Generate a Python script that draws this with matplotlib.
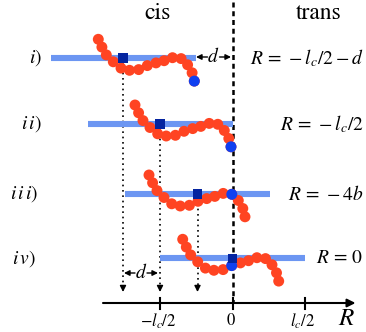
import matplotlib
matplotlib.use('Agg')
from matplotlib import pyplot as plt
import numpy as np

plt.rcParams['mathtext.fontset'] = 'stix'
plt.rcParams['font.family'] = ['STIXGeneral', 'DejaVu Serif']

# positions along R (0 = pore, one unit ~ one pixel of the original)
lc_half = 72.5
d = 37.0
b = 8.75

# chain shape: bead offsets from first bead
chain_dx = [0, 3.6, 8.0, 15.0, 22.7, 31.2, 40.4, 49.0, 57.7, 65.8, 74.2, 82.8, 89.3, 93.8, 96.0]
chain_dy = [0, 7.8, 15.6, 22.5, 28.8, 31.0, 30.3, 26.3, 23.6, 21.4, 18.4, 19.3, 25.5, 33.5, 41.8]

# one entry per row
row_y = [58, 124, 194, 258.3]
row_R = [-lc_half - d, -lc_half, -4 * b, 0.0]
chain_x0 = [-134.2, -97.5, -83.5, -49.8]
chain_y0 = [-18.7, -19.0, -19.0, -19.0]
blue_bead = [14, 14, 11, 7]
row_names = ['$i)$', '$i\\,i)$', '$i\\,i\\,i)$', '$i\\,v)$']
row_name_x = [-197, -201, -208, -209]
R_labels = ['$R\\,=\\,-l_c/2-d$', '$R\\,=\\,-l_c/2$', '$R\\,=\\,-4b$', '$R\\,=\\,0$']

ticks = [-lc_half, 0, lc_half]
tick_labels = ['$-l_c/2$', '$0$', '$l_c/2$']

axis_y = 303
arrow_tip = 292

fig = plt.figure(figsize=(3.66, 3.32), dpi=100)
ax = fig.add_axes([0, 0, 1, 1])
ax.set_xlim(-232.5, 133.5)
ax.set_ylim(332, 0)
ax.axis('off')

bar_col = '#6c96f2'
red = '#ff4422'
blue = '#1040f0'
sq_col = '#0424a0'

for i in range(4):
    y = row_y[i]
    R = row_R[i]
    ax.plot([R - lc_half, R + lc_half], [y, y], color=bar_col, lw=4.4,
            solid_capstyle='butt', zorder=2)
    bx = np.array(chain_dx) + chain_x0[i]
    by = np.array(chain_dy) + y + chain_y0[i]
    ax.scatter(bx, by, s=62, color=red, edgecolors='none', zorder=3)
    k = blue_bead[i]
    ax.scatter([bx[k]], [by[k]], s=62, color=blue, edgecolors='none', zorder=4)
    ax.scatter([R], [y], s=42, marker='s', color=sq_col, edgecolors='none', zorder=5)
    ax.text(row_name_x[i], y, row_names[i], fontsize=14, ha='center', va='center')
    ax.text(131, y, R_labels[i], fontsize=14, ha='right', va='center')
    # dotted arrow from the chain centre down to the axis
    if R != 0:
        ax.plot([R, R], [y + 4, arrow_tip - 5], ls=(0, (1, 2.2)), color='k', lw=1.2, zorder=1)
        ax.annotate('', xy=(R, arrow_tip), xytext=(R, arrow_tip - 6),
                    arrowprops=dict(arrowstyle='-|>', mutation_scale=9, color='k', lw=1,
                                    shrinkA=0, shrinkB=0))

# pore position
ax.plot([0, 0], [2, axis_y], ls=(0, (2, 1.5)), color='k', lw=1.8, zorder=1)

# d arrows
for xl, xr, yd in [(-36.5, -1.5, 57), (-108.5, -74.5, 273)]:
    xm = (xl + xr) / 2
    ax.annotate('', xy=(xl, yd), xytext=(xm - 6, yd),
                arrowprops=dict(arrowstyle='-|>', mutation_scale=8, color='k', lw=1,
                                shrinkA=0, shrinkB=0))
    ax.annotate('', xy=(xr, yd), xytext=(xm + 6, yd),
                arrowprops=dict(arrowstyle='-|>', mutation_scale=8, color='k', lw=1,
                                shrinkA=0, shrinkB=0))
    ax.text(xm, yd, '$d$', fontsize=14, ha='center', va='center')

# R axis
ax.annotate('', xy=(123, axis_y), xytext=(-129.5, axis_y),
            arrowprops=dict(arrowstyle='-|>', mutation_scale=12, color='k', lw=1.5,
                            shrinkA=0, shrinkB=0))
for t, lab in zip(ticks, tick_labels):
    ax.plot([t, t], [297.5, 308.5], color='k', lw=1.5)
    ax.text(t - 2, 321, lab, fontsize=12, ha='center', va='center')
ax.text(114, 319, '$R$', fontsize=18, ha='center', va='center')

ax.text(-74.5, 13, 'cis', fontsize=17, ha='center', va='center')
ax.text(86, 13, 'trans', fontsize=17, ha='center', va='center')

plt.savefig('out.png', dpi=100)
